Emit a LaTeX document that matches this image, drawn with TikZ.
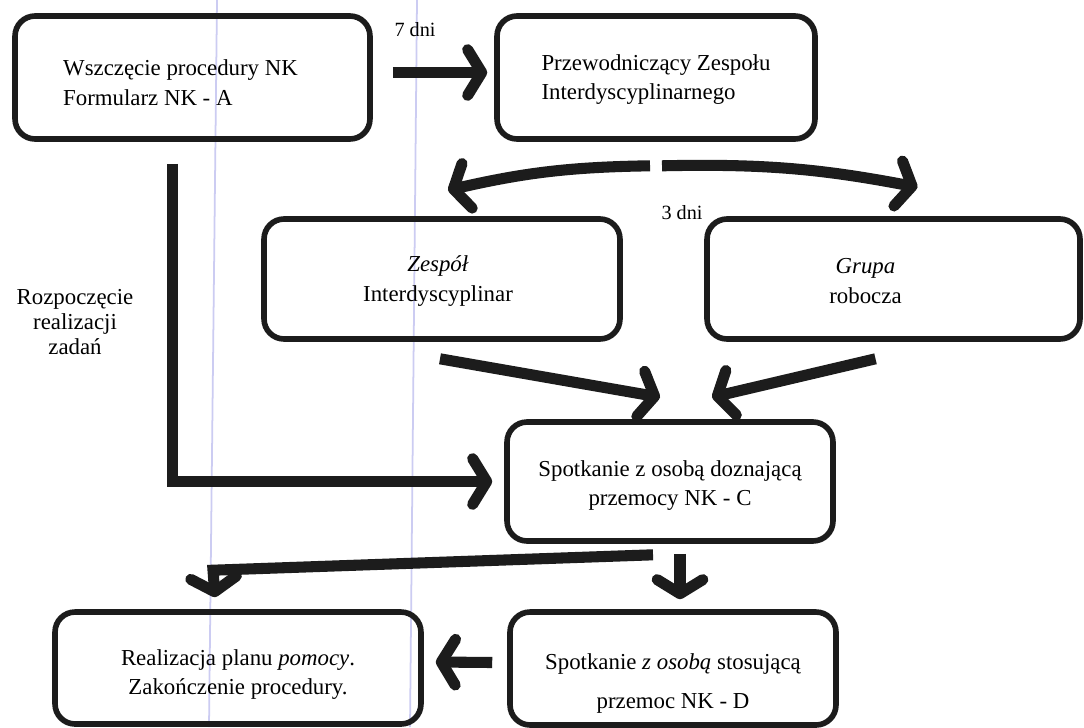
\documentclass[tikz,border=0pt]{standalone}
\usepackage{fontspec}
\setmainfont{Liberation Serif}
\usetikzlibrary{arrows.meta,calc}
\definecolor{ink}{HTML}{1C1C1C}
\definecolor{scanline}{HTML}{CCCCF2}
\begin{document}
\begin{tikzpicture}[x=0.02cm,y=-0.02cm,
  box/.style={draw=ink, line width=3.2pt, rounded corners=0.4cm, inner sep=0pt},
  fat/.style={draw=ink, line width=6.3pt,
    -{Straight Barb[length=8pt,width=26pt,round]}},
  lbl/.style={font=\fontsize{13}{17}\selectfont, inner sep=0pt},
  small/.style={font=\fontsize{11.5}{14}\selectfont, inner sep=0pt}]
\useasboundingbox (0,0) rectangle (1084,727);
\fill[white] (0,0) rectangle (1084,727);
\draw[scanline, line width=1pt] (217,0) -- (209,727);
\draw[scanline, line width=1pt] (417,0) -- (410,727);

% boxes
\node[box, minimum width=7.1cm, minimum height=2.46cm,
  label={[lbl, align=left, xshift=-0.24cm, yshift=-0.1cm]center:Wszczęcie procedury NK\\Formularz NK - A}]
  (A) at (192.5,77.5) {};
\node[box, minimum width=6.36cm, minimum height=2.46cm,
  label={[lbl, align=left, yshift=-0.04cm]center:Przewodniczący Zespołu\\Interdyscyplinarnego}]
  (B) at (656,77.5) {};
\node[box, minimum width=7.12cm, minimum height=2.4cm,
  label={[lbl, align=center, xshift=-0.08cm, yshift=-0.04cm]center:\textit{Zespół}\\Interdyscyplinar}]
  (C) at (442,279) {};
\node[box, minimum width=7.46cm, minimum height=2.4cm,
  label={[lbl, align=center, xshift=-0.56cm, yshift=-0.04cm]center:\textit{Grupa}\\robocza}]
  (D) at (893.5,279) {};
\node[box, minimum width=6.52cm, minimum height=2.38cm,
  label={[lbl, align=center, yshift=-0.08cm]center:Spotkanie z osobą doznającą\\przemocy NK - C}]
  (E) at (670,481.5) {};
\node[box, minimum width=6.52cm, minimum height=2.26cm,
  label={[lbl, align=center, yshift=-0.3cm]center:Spotkanie \textit{z osobą} stosującą\\[5pt]przemoc NK - D}]
  (F) at (673,668.5) {};
\node[box, minimum width=7.32cm, minimum height=2.24cm,
  label={[lbl, align=center, yshift=-0.13cm]center:Realizacja planu \textit{pomocy}.\\Zakończenie procedury.}]
  (G) at (238,668) {};

% labels
\node[small] (l7) at (415,30) {7 dni};
\node[small] (l3) at (682,213) {3 dni};
\node[font=\fontsize{13}{14}\selectfont, align=center, inner sep=0pt] (lr) at (75,322)
  {Rozpoczęcie\\realizacji\\zadań};

% connectors
\draw[fat] ($(A.east)+(20,-5)$) -- ($(B.west)+(-7,-5)$);
\draw[fat] ($(B.south)+(-6,24)$) to[bend right=6] ($(C.north)+(6,-26)$);
\draw[fat] ($(B.south)+(6,24)$) to[bend left=6] ($(D.north)+(24,-29)$);
\draw[fat] ($(C.south)+(-2,17)$) -- ($(E.north)+(-10,-22)$);
\draw[fat] ($(D.south)+(-18,17)$) -- ($(E.north)+(42,-22)$);
\draw[fat] ($(A.south)+(-20,22)$) |- ($(E.west)+(-12,0)$);
\draw[fat] ($(E.south)+(10,10)$) -- ($(F.north)+(7,-10)$);
\draw[fat] ($(E.south)+(-17,11)$) -- ($(G.north)+(-25,-39)$) -- ($(G.north)+(-23,-12)$);
\draw[fat] ($(F.west)+(-15,-6)$) -- ($(G.east)+(12,-6)$);
\end{tikzpicture}
\end{document}
